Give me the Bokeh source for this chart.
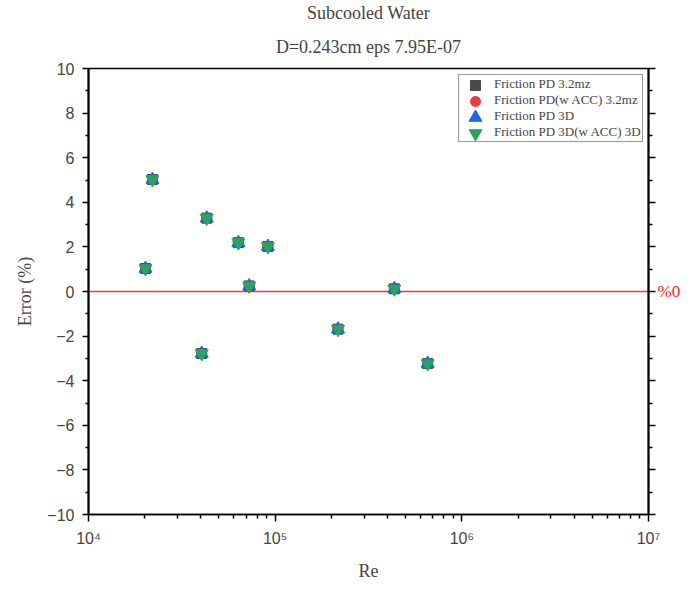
import math
from bokeh.plotting import figure
from bokeh.models import FixedTicker, LinearAxis, Range1d, Legend, LegendItem, Title
from bokeh.embed import file_html
from bokeh.resources import INLINE

# ---- data ----
re_vals = [20200, 22000, 40400, 43000, 63500, 72600, 91400, 217000, 435000, 656000]
err_pd_32 = [1.03, 5.02, -2.78, 3.29, 2.19, 0.25, 2.02, -1.69, 0.12, -3.23]
err_pd_acc_32 = [1.03, 5.02, -2.78, 3.29, 2.19, 0.25, 2.02, -1.69, 0.12, -3.23]
err_pd_3d = [1.03, 5.02, -2.78, 3.29, 2.19, 0.25, 2.02, -1.69, 0.12, -3.23]
err_pd_acc_3d = [1.03, 5.02, -2.78, 3.29, 2.19, 0.25, 2.02, -1.69, 0.12, -3.23]

series_names = ["Friction PD 3.2mz", "Friction PD(w ACC) 3.2mz",
                "Friction PD 3D", "Friction PD 3D(w ACC) 3D"]
title_lines = ["Subcooled Water", "D=0.243cm eps 7.95E-07"]
x_major = [1e4, 1e5, 1e6, 1e7]
x_labels = ["10\u2074", "10\u2075", "10\u2076", "10\u2077"]
y_major = [-10, -8, -6, -4, -2, 0, 2, 4, 6, 8, 10]
ref_value = 0
ref_label = "%0"

SERIF = "Liberation Serif"
SANS = "Liberation Sans"

# layout constants (whole figure 681 x 582 so it fits the window with its margin)
FW, FH = 560, 446
BL, BR, BT, BB = 88, 33, 66, 70
X0, X1, Y0, Y1 = 1e4, 1e7, -10, 10

p = figure(width=BL + FW + BR, height=BT + FH + BB, x_axis_type="log",
           x_range=Range1d(X0, X1), y_range=Range1d(Y0, Y1),
           output_backend="svg", toolbar_location=None,
           frame_width=FW, frame_height=FH,
           min_border_left=BL, min_border_right=BR,
           min_border_top=BT, min_border_bottom=BB)

# two-line title: outer line is the figure title, inner line an extra Title panel
p.title.text = title_lines[0]
p.title.align = "center"
p.title.text_font = SERIF
p.title.text_font_size = "18px"
p.title.text_font_style = "normal"
p.title.standoff = 0
p.add_layout(Title(text=title_lines[1], align="center", text_font=SERIF,
                   text_font_size="18px", text_font_style="normal", standoff=24), "above")

p.grid.visible = False
p.outline_line_color = "black"
p.outline_line_width = 1.5

minor_x = [m * 10 ** e for e in range(4, 7) for m in range(2, 10)]
xa = p.xaxis[0]
xa.ticker = FixedTicker(ticks=x_major, minor_ticks=minor_x)
xa.major_label_overrides = {v: l for v, l in zip(x_major, x_labels)}
xa.axis_label = "Re"
xa.axis_label_text_font = SERIF
xa.axis_label_text_font_size = "18px"
xa.axis_label_text_font_style = "normal"
xa.axis_label_standoff = 11
xa.major_label_text_font = SANS
xa.major_label_text_font_size = "16px"
xa.major_label_standoff = 8
xa.major_tick_out = 7
xa.major_tick_in = 0
xa.minor_tick_out = 4
xa.minor_tick_in = 0
xa.axis_line_width = 1.5
xa.major_tick_line_width = 1.5
xa.minor_tick_line_width = 1.5

ya = p.yaxis[0]
ya.ticker = FixedTicker(ticks=y_major, minor_ticks=list(range(-9, 10, 2)))
ya.axis_label = "Error (%)"
ya.axis_label_text_font = SERIF
ya.axis_label_text_font_size = "18px"
ya.axis_label_text_font_style = "normal"
ya.axis_label_standoff = 9
ya.major_label_text_font = SANS
ya.major_label_text_font_size = "16px"
ya.major_label_standoff = 8
ya.major_tick_out = 6
ya.major_tick_in = 0
ya.minor_tick_out = 3
ya.minor_tick_in = 0
ya.axis_line_width = 2
ya.major_tick_line_width = 1.5
ya.minor_tick_line_width = 1.5

# right axis: ticks on all majors, a single red label at the zero line
ra = LinearAxis(ticker=FixedTicker(ticks=y_major, minor_ticks=list(range(-9, 10, 2))))
ra.major_label_overrides = {v: (ref_label if v == ref_value else "") for v in y_major}
ra.major_label_text_color = "#ff2020"
ra.major_label_text_font = SERIF
ra.major_label_text_font_size = "17px"
ra.major_label_standoff = 2
ra.major_tick_out = 7
ra.major_tick_in = 0
ra.minor_tick_out = 4
ra.minor_tick_in = 0
ra.axis_line_width = 2
ra.major_tick_line_width = 1.5
ra.minor_tick_line_width = 1.5
p.add_layout(ra, "right")

# red zero-error reference line across the full x range
p.line([X0, X1], [ref_value, ref_value], line_color="#ee3b3b", line_width=1.3)

markers = ["square", "circle", "triangle", "inverted_triangle"]
colors = ["#4a4a4a", "#ee3b3b", "#1f66e5", "#2ca25f"]
sizes = [10, 10, 13, 13]
series = [err_pd_32, err_pd_acc_32, err_pd_3d, err_pd_acc_3d]

renderers = []
for ys, m, c, s in zip(series, markers, colors, sizes):
    renderers.append(p.scatter(re_vals, ys, marker=m, size=s, color=c))

# legend: Bokeh legend (box + labels), with full-size markers under its glyph slots
LEG_X, LEG_Y = 370, 372          # bottom-left of legend, px from frame bottom-left
PAD, GW, GH, NROW = 1, 32, 16, 4
legend = Legend(items=[LegendItem(label=n, renderers=[r]) for n, r in
                       zip(series_names, renderers)],
                location=(LEG_X, LEG_Y), label_text_font=SERIF,
                label_text_font_size="13px", glyph_height=GH, glyph_width=GW,
                label_height=GH, label_standoff=2, spacing=0, padding=PAD, margin=0,
                border_line_color="#333333", border_line_width=1,
                background_fill_alpha=0)
p.add_layout(legend, "center")

leg_top_px = LEG_Y + 2 * PAD + NROW * GH     # from frame bottom
gx_px = LEG_X + PAD + GW / 2
lx = 10 ** (math.log10(X0) + gx_px / FW * (math.log10(X1) - math.log10(X0)))
for i, (m, c, s) in enumerate(zip(markers, colors, sizes)):
    gy_px = leg_top_px - PAD - GH * (i + 0.5)
    ly = Y0 + gy_px / FH * (Y1 - Y0)
    p.scatter([lx], [ly], marker=m, size=s, color=c)

open("out.html", "w").write(file_html(p, INLINE))
